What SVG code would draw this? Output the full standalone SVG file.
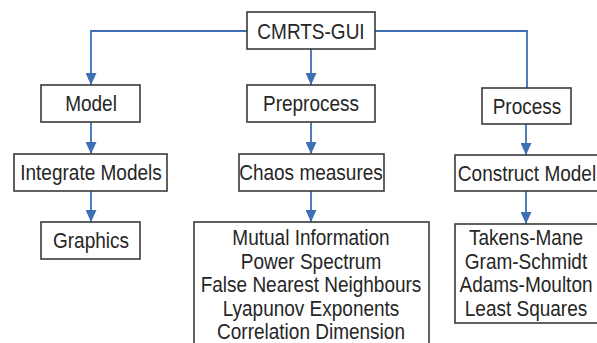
<svg xmlns="http://www.w3.org/2000/svg" width="597" height="343" viewBox="0 0 597 343">
<style>
.box{fill:#fff;stroke:#3a3a3a;stroke-width:1.6}
.t{font-family:"Liberation Sans",Arial,sans-serif;font-size:19px;fill:#262626;text-anchor:middle}
.c{fill:none;stroke:#3d6fb5;stroke-width:1.8}
</style>
<defs>
<marker id="ah" viewBox="0 0 12 11" refX="12" refY="5.5" markerWidth="12" markerHeight="11" markerUnits="userSpaceOnUse" orient="auto">
<path d="M0,0 L12,5.5 L0,11 Z" fill="#3d6fb5"/>
</marker>
</defs>
<rect width="597" height="343" fill="#fff"/>
<g id="connectors">
<path class="c" d="M247,31 H91 V85" marker-end="url(#ah)"/>
<path class="c" d="M311,49 V85" marker-end="url(#ah)"/>
<path class="c" d="M375,31 H527 V88"/>
<path class="c" d="M91,122 V154" marker-end="url(#ah)"/>
<path class="c" d="M91,191 V222" marker-end="url(#ah)"/>
<path class="c" d="M311,122 V154" marker-end="url(#ah)"/>
<path class="c" d="M311,191 V222" marker-end="url(#ah)"/>
<path class="c" d="M526,124 V155" marker-end="url(#ah)"/>
<path class="c" d="M526,191 V224" marker-end="url(#ah)"/>
</g>
<g id="cmrts"><rect class="box" x="247" y="12" width="128" height="37"/><text class="t" transform="translate(311,38.5) scale(1,1.13)">CMRTS-GUI</text></g>
<g id="model"><rect class="box" x="41" y="85" width="99" height="37"/><text class="t" transform="translate(91,111) scale(1,1.13)">Model</text></g>
<g id="preprocess"><rect class="box" x="247" y="85" width="128" height="37"/><text class="t" transform="translate(311,111) scale(1,1.13)">Preprocess</text></g>
<g id="process"><rect class="box" x="482" y="88" width="89" height="36"/><text class="t" transform="translate(527,114) scale(1,1.13)">Process</text></g>
<g id="integrate"><rect class="box" x="14" y="154" width="153" height="37"/><text class="t" transform="translate(91,180) scale(1,1.13)">Integrate Models</text></g>
<g id="graphics"><rect class="box" x="41" y="222" width="99" height="37"/><text class="t" transform="translate(91,248) scale(1,1.13)">Graphics</text></g>
<g id="chaos"><rect class="box" x="239" y="154" width="145" height="37"/><text class="t" transform="translate(311,180) scale(1,1.13)">Chaos measures</text></g>
<g id="construct"><rect class="box" x="455" y="155" width="150" height="36"/><text class="t" transform="translate(527,180.5) scale(1,1.13)">Construct Model</text></g>
<g id="measures"><rect class="box" x="194" y="222" width="235" height="130"/>
<text class="t" transform="translate(311,245) scale(1,1.13)">Mutual Information</text>
<text class="t" transform="translate(311,268.5) scale(1,1.13)">Power Spectrum</text>
<text class="t" transform="translate(311,292) scale(1,1.13)">False Nearest Neighbours</text>
<text class="t" transform="translate(311,315.5) scale(1,1.13)">Lyapunov Exponents</text>
<text class="t" transform="translate(311,338.5) scale(1,1.13)">Correlation Dimension</text>
</g>
<g id="methods"><rect class="box" x="455" y="224" width="150" height="99"/>
<text class="t" transform="translate(526,245) scale(1,1.13)">Takens-Mane</text>
<text class="t" transform="translate(526,268.5) scale(1,1.13)">Gram-Schmidt</text>
<text class="t" transform="translate(526,292) scale(1,1.13)">Adams-Moulton</text>
<text class="t" transform="translate(526,315.5) scale(1,1.13)">Least Squares</text>
</g>
</svg>
